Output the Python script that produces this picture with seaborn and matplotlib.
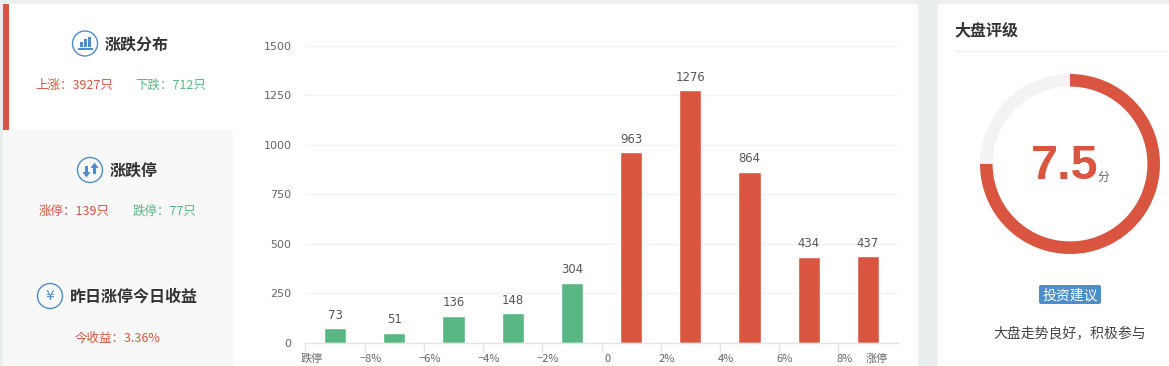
import matplotlib
matplotlib.use('Agg')
import matplotlib.pyplot as plt
from matplotlib.patches import Rectangle, Circle, FancyBboxPatch, Polygon
import seaborn as sns

sns.set_theme(style='white')
plt.rcParams['font.family'] = ['Noto Sans CJK SC', 'DejaVu Sans']

W, H = 1169, 366
RED = '#D9553F'
GREEN = '#58B782'
BLUE = '#4E8DCC'
GAP = '#EAEEEF'

# 涨跌分布数据
bins = ['跌停~-8%', '-8~-6%', '-6~-4%', '-4~-2%', '-2~0%', '0~2%', '2~4%', '4~6%', '6~8%', '8%~涨停']
counts = [73, 51, 136, 148, 304, 963, 1276, 864, 434, 437]
direction = ['跌', '跌', '跌', '跌', '跌', '涨', '涨', '涨', '涨', '涨']
edge_labels = ['跌停', '−8%', '−6%', '−4%', '−2%', '0', '2%', '4%', '6%', '8%', '涨停']
y_ticks = [0, 250, 500, 750, 1000, 1250, 1500]

# 大盘评分
score = [7.5, 2.5]
score_text = '7.5'

fig = plt.figure(figsize=(W / 100, H / 100), dpi=100, facecolor='white')


def px_axes(x0, y0, x1, y1):
    return fig.add_axes([x0 / W, 1 - y1 / H, (x1 - x0) / W, (y1 - y0) / H])


# 背景层，坐标就用像素
bg = px_axes(0, 0, W, H)
bg.set_xlim(0, W)
bg.set_ylim(H, 0)
bg.axis('off')
bg.add_patch(Rectangle((0, 0), W, 4, color=GAP, lw=0))
bg.add_patch(Rectangle((0, 0), 3, H, color=GAP, lw=0))
bg.add_patch(Rectangle((918, 0), 20, H, color=GAP, lw=0))
bg.add_patch(Rectangle((3, 130), 230, H - 130, color='#F8F8F8', lw=0))
bg.add_patch(Rectangle((3, 4), 6, 126, color=RED, lw=0))
bg.plot([955, W], [50.5, 50.5], color='#EEEEEE', lw=1)

# 左侧标题和小图标
bg.text(137, 45, '涨跌分布', fontsize=11.5, fontweight='bold', color='#333333', ha='center', va='center')
bg.text(134, 171, '涨跌停', fontsize=11.5, fontweight='bold', color='#333333', ha='center', va='center')
bg.text(134, 297, '昨日涨停今日收益', fontsize=11.5, fontweight='bold', color='#333333', ha='center', va='center')
for cx, cy in [(85, 43.5), (90, 170), (50, 296)]:
    bg.add_patch(Circle((cx, cy), 12.5, fill=False, ec=BLUE, lw=1))
for x, h in [(79.5, 5), (83.5, 8), (87.5, 10.5)]:
    bg.add_patch(Rectangle((x, 47 - h), 3, h, color=BLUE, lw=0))
bg.add_patch(Rectangle((77.5, 48), 15.5, 1.5, color=BLUE, lw=0))
bg.add_patch(Polygon([(86.5, 177.5), (82.5, 172), (85, 172), (85, 166), (88, 166), (88, 172), (90.5, 172)], color=BLUE, lw=0))
bg.add_patch(Polygon([(94.5, 162.5), (98.5, 168), (96, 168), (96, 174), (93, 174), (93, 168), (90.5, 168)], color=BLUE, lw=0))
bg.text(50, 296, '¥', fontsize=10, color=BLUE, ha='center', va='center', family='DejaVu Sans')

bg.text(74, 85, '上涨：3927只', fontsize=9, color=RED, ha='center', va='center')
bg.text(170.5, 85, '下跌：712只', fontsize=9, color=GREEN, ha='center', va='center')
bg.text(74.5, 211, '涨停：139只', fontsize=9, color=RED, ha='center', va='center')
bg.text(164, 211, '跌停：77只', fontsize=9, color=GREEN, ha='center', va='center')
bg.text(117.5, 338, '今收益：3.36%', fontsize=9, color=RED, ha='center', va='center')

# 右侧文字
bg.text(954, 30, '大盘评级', fontsize=11.5, fontweight='bold', color='#333333', ha='left', va='center')
bg.add_patch(FancyBboxPatch((1040, 286), 60, 17, boxstyle='round,pad=1,rounding_size=2', color=BLUE, lw=0))
bg.text(1070, 295, '投资建议', fontsize=10, color='white', ha='center', va='center')
bg.text(1070, 333, '大盘走势良好，积极参与', fontsize=10, color='#444444', ha='center', va='center')

# 柱状图
ax = px_axes(305.5, 46, 897.5, 342.7)
ax.patch.set_alpha(0)
sns.barplot(x=bins, y=counts, hue=direction, order=bins, palette={'涨': RED, '跌': GREEN},
            dodge=False, width=0.375, saturation=1, legend=False, ax=ax)
ax.set_xlim(-0.5, 9.5)
ax.set_ylim(0, 1500)
ax.set_yticks(y_ticks)
ax.set_yticklabels([str(v) for v in y_ticks], fontsize=8, color='#666666', family='DejaVu Sans')
ax.tick_params(axis='y', length=0, pad=10)
ax.grid(axis='y', color='#F2F2F2', lw=1)
ax.set_axisbelow(True)
sns.despine(ax=ax, left=True)
ax.spines['bottom'].set_color('#E4E4E4')
ax.spines['bottom'].set_linewidth(1)

# 主刻度在区间边界，文字放在次刻度上
ax.set_xticks([i - 0.5 for i in range(10)])
ax.set_xticklabels([''] * 10)
ax.tick_params(axis='x', which='major', length=6.5, width=1, color='#E4E4E4', bottom=True)
label_pos = [i - 0.5 + 0.1 for i in range(10)] + [9.15]
ax.set_xticks(label_pos, minor=True)
ax.set_xticklabels(edge_labels, minor=True, fontsize=8, color='#666666')
ax.tick_params(axis='x', which='minor', length=0, pad=8)
ax.set_xlabel('')
ax.set_ylabel('')

for i, v in enumerate(counts):
    ax.annotate(str(v), (i, v), xytext=(0, 9.5), textcoords='offset points', ha='center', va='center',
                fontsize=8.4, color='#555555', family='DejaVu Sans')

# 评分圆环
gauge = px_axes(980, 74, 1160, 254)
gauge.pie(score, colors=[RED, '#F3F3F3'], startangle=90, counterclock=False, radius=1,
          wedgeprops={'width': 0.14, 'linewidth': 0})
gauge.set_xlim(-1, 1)
gauge.set_ylim(-1, 1)
gauge.patch.set_alpha(0)
gauge.text(-0.435, -0.165, score_text, fontsize=35, fontweight='bold', color=RED, ha='left', va='baseline',
           family='Liberation Sans')
gauge.text(0.37, -0.145, '分', fontsize=8.5, color='#666666', ha='center', va='center')

fig.savefig('out.png', dpi=100)
